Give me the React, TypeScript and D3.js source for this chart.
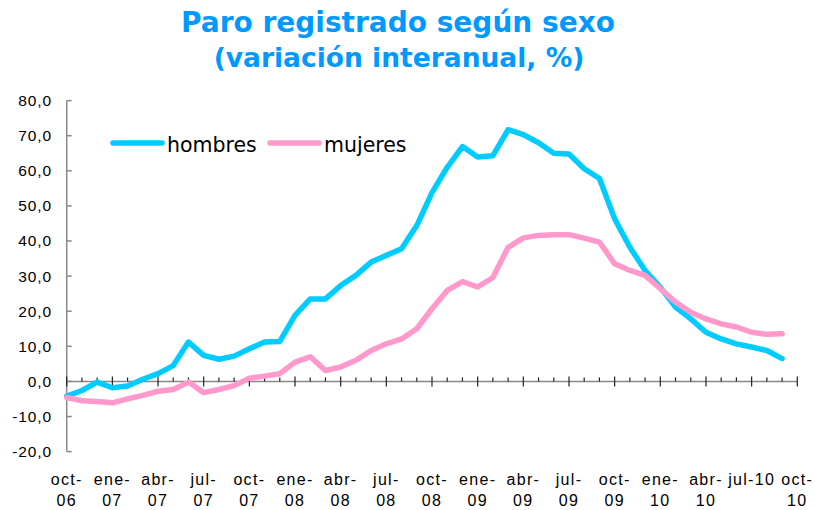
import * as d3 from "d3"

const months = [
  "oct-06", "nov-06", "dic-06", "ene-07", "feb-07", "mar-07", "abr-07", "may-07", "jun-07", "jul-07",
  "ago-07", "sep-07", "oct-07", "nov-07", "dic-07", "ene-08", "feb-08", "mar-08", "abr-08", "may-08",
  "jun-08", "jul-08", "ago-08", "sep-08", "oct-08", "nov-08", "dic-08", "ene-09", "feb-09", "mar-09",
  "abr-09", "may-09", "jun-09", "jul-09", "ago-09", "sep-09", "oct-09", "nov-09", "dic-09", "ene-10",
  "feb-10", "mar-10", "abr-10", "may-10", "jun-10", "jul-10", "ago-10", "sep-10", "oct-10",
]

// oct-06 .. sep-10
const hombres = [
  -4.2, -2.6, -0.2, -1.8, -1.3, 0.6, 2.2, 4.5, 11.2, 7.4,
  6.3, 7.2, 9.3, 11.2, 11.4, 18.8, 23.5, 23.5, 27.3, 30.2,
  34.0, 35.9, 37.8, 44.4, 53.8, 61.0, 66.9, 63.9, 64.3, 71.7,
  70.3, 68.0, 65.0, 64.8, 60.6, 57.8, 46.3, 38.2, 31.6, 26.8,
  21.2, 17.8, 14.0, 12.1, 10.7, 9.8, 8.8, 6.5,
]

const mujeres = [
  -4.6, -5.5, -5.7, -6.1, -5.0, -4.0, -2.8, -2.3, -0.2, -3.2,
  -2.3, -1.2, 0.9, 1.5, 2.2, 5.5, 7.0, 3.1, 4.1, 6.0,
  8.8, 10.7, 12.1, 15.0, 20.7, 25.9, 28.4, 26.9, 29.6, 38.2,
  40.9, 41.6, 41.8, 41.8, 40.8, 39.7, 33.5, 31.6, 30.2, 26.4,
  22.6, 19.7, 17.8, 16.4, 15.5, 14.0, 13.4, 13.6,
]

const xLabels = [
  "oct-06", "ene-07", "abr-07", "jul-07", "oct-07", "ene-08", "abr-08", "jul-08", "oct-08",
  "ene-09", "abr-09", "jul-09", "oct-09", "ene-10", "abr-10", "jul-10", "oct-10",
]

const yTicks = [-20, -10, 0, 10, 20, 30, 40, 50, 60, 70, 80]

const series = [
  { name: "hombres", values: hombres, color: "#00CCFF" },
  { name: "mujeres", values: mujeres, color: "#FF99CC" },
]

export default function App() {
  const width = 815
  const height = 510
  const x = d3.scalePoint<string>().domain(months).range([66.7, 797.3])
  const y = d3.scaleLinear().domain([-20, 80]).range([451.6, 100.6])

  const line = d3
    .line<number>()
    .x((_, i) => x(months[i]) as number)
    .y((d) => y(d))

  const fmt = (v: number) => v.toFixed(1).replace(".", ",")
  const x0 = x(months[0]) as number
  const y0 = y(0)

  return (
    <svg
      width={width}
      height={height}
      style={{ position: "absolute", left: 0, top: 0, background: "#fff" }}
    >
      <g fill="#0099FF" fontFamily="DejaVu Sans, Verdana, sans-serif" fontWeight="bold" textAnchor="middle">
        <text x={398} y={32} fontSize={28}>Paro registrado según sexo</text>
        <text x={399} y={67} fontSize={26.5}>(variación interanual, %)</text>
      </g>

      {/* y axis */}
      <line x1={x0} x2={x0} y1={y(80)} y2={y(-20)} stroke="#888" strokeWidth={1.5} />
      {yTicks.map((t) => (
        <g key={t}>
          <line x1={x0} x2={x0 + 5} y1={y(t)} y2={y(t)} stroke="#888" strokeWidth={1.5} />
          <text
            x={52}
            y={y(t)}
            dy="0.35em"
            textAnchor="end"
            fontFamily="Liberation Sans, Arial, sans-serif"
            fontSize={15.5}
            letterSpacing={0.9}
            fill="#000"
          >
            {fmt(t)}
          </text>
        </g>
      ))}

      {/* x axis */}
      <line x1={x0} x2={x(months[months.length - 1])} y1={y0} y2={y0} stroke="#888" strokeWidth={1.5} />
      {months.map((m, i) => {
        const major = i % 3 === 0
        return (
          <line
            key={m}
            x1={x(m)}
            x2={x(m)}
            y1={major ? y0 - 5 : y0 - 4}
            y2={major ? y0 + 5 : y0}
            stroke="#222"
            strokeWidth={1.2}
          />
        )
      })}
      {xLabels.map((lab) => {
        const [mon, yr] = lab.split("-")
        const cx = x(lab) as number
        const single = lab === "jul-10"
        return (
          <g
            key={lab}
            fontFamily="Liberation Sans, Arial, sans-serif"
            fontSize={16}
            letterSpacing={1.3}
            fill="#000"
            textAnchor="middle"
          >
            {single ? (
              <text x={cx} y={485}>{lab}</text>
            ) : (
              <>
                <text x={cx} y={485}>{mon}-</text>
                <text x={cx} y={506}>{yr}</text>
              </>
            )}
          </g>
        )
      })}

      {/* lines */}
      {series.map((s) => (
        <path
          key={s.name}
          d={line(s.values) ?? ""}
          fill="none"
          stroke={s.color}
          strokeWidth={5.5}
          strokeLinejoin="round"
          strokeLinecap="round"
        />
      ))}

      {/* legend */}
      {series.map((s, i) => (
        <g key={s.name} transform={`translate(${113 + i * 157},143)`}>
          <line x1={0} x2={49} y1={0} y2={0} stroke={s.color} strokeWidth={5.5} strokeLinecap="round" />
          <text x={54} y={8.5} fontFamily="DejaVu Sans, Verdana, sans-serif" fontSize={20.5} fill="#000">
            {s.name}
          </text>
        </g>
      ))}
    </svg>
  )
}
